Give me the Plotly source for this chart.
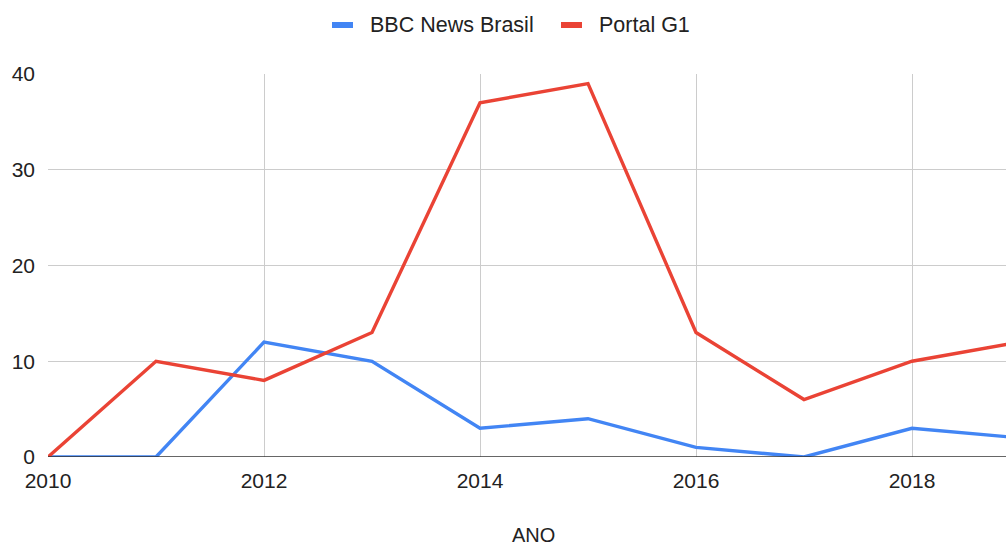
import plotly.graph_objects as go

years = [2010, 2011, 2012, 2013, 2014, 2015, 2016, 2017, 2018, 2019]
bbc = [0, 0, 12, 10, 3, 4, 1, 0, 3, 2]
g1 = [0, 10, 8, 13, 37, 39, 13, 6, 10, 12]
series_names = ["BBC News Brasil", "Portal G1"]
series_colors = ["#4285F4", "#EA4335"]
x_ticks = [2010, 2012, 2014, 2016, 2018]
y_ticks = [0, 10, 20, 30, 40]
x_title = "ANO"

FONT = "Liberation Sans, Arial, sans-serif"
W, H = 1006, 546
L, R, T, B = 48, 0, 74, 89
PW, PH = W - L - R, H - T - B

def px_x(px):
    return (px - L) / PW

def px_y(py):
    return (H - B - py) / PH

fig = go.Figure()
for name, vals, col in zip(series_names, [bbc, g1], series_colors):
    fig.add_trace(go.Scatter(x=years, y=vals, name=name, mode="lines",
                             line=dict(color=col, width=3.4), showlegend=False))

# manual legend (rectangle swatches like the reference)
legend_rects = [(332, 353), (561, 582)]
legend_text_x = [368, 597]
for name, col, (x0, x1), tx in zip(series_names, series_colors, legend_rects, legend_text_x):
    fig.add_shape(type="rect", xref="paper", yref="paper",
                  x0=px_x(x0), x1=px_x(x1), y0=px_y(28), y1=px_y(22),
                  fillcolor=col, line=dict(width=0))
    fig.add_annotation(xref="paper", yref="paper", x=px_x(tx), y=px_y(25),
                       xanchor="left", yanchor="middle", text=name,
                       showarrow=False, font=dict(size=21.5, color="#222222"))

# x-axis title
fig.add_annotation(xref="paper", yref="paper", x=px_x(533), y=px_y(535),
                   xanchor="center", yanchor="middle", text=x_title,
                   showarrow=False, font=dict(size=20, color="#222222"))

fig.update_layout(
    width=W, height=H,
    margin=dict(l=L, r=R, t=T, b=B),
    paper_bgcolor="white", plot_bgcolor="white",
    font=dict(family=FONT, size=21, color="#222222"),
    showlegend=False,
    xaxis=dict(range=[2010, 2010 + PW / 108.0], automargin=False,
               tickvals=x_ticks, ticktext=[str(v) for v in x_ticks],
               showgrid=True, gridcolor="#cccccc", gridwidth=1.3,
               zeroline=False, showline=False, ticks="",
               tickfont=dict(size=21), ticklabelstandoff=9),
    yaxis=dict(range=[0, 40], tickvals=y_ticks, automargin=False,
               showgrid=True, gridcolor="#cccccc", gridwidth=1.3,
               zeroline=False, showline=False, ticks="",
               tickfont=dict(size=21), ticklabelstandoff=12),
)
fig.add_hline(y=0, line=dict(color="#333333", width=1.5))

fig.write_html("out.html")
